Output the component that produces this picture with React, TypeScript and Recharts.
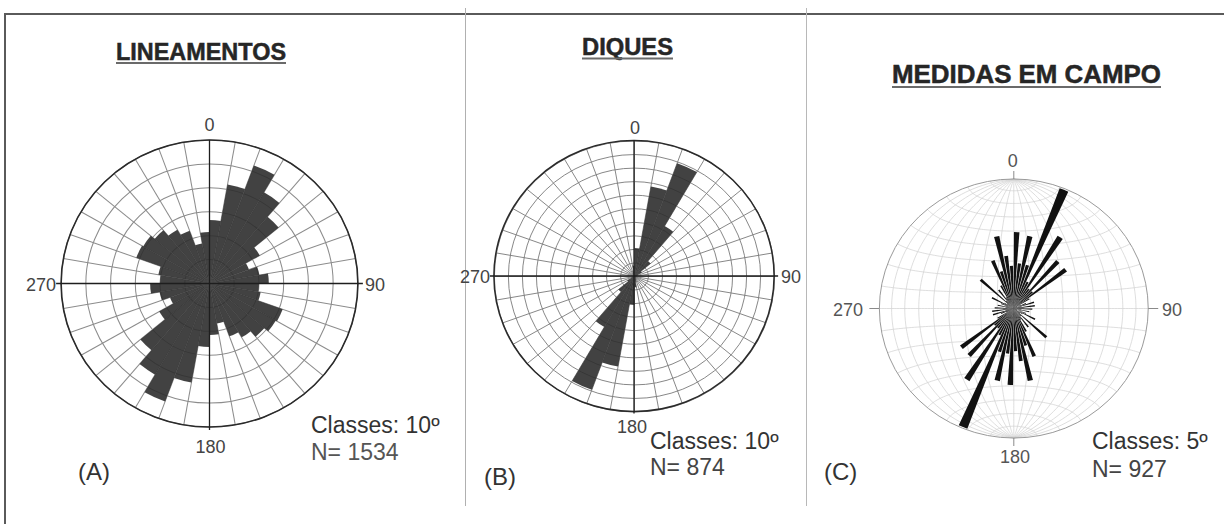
import React from 'react';
import { RadialBarChart, RadialBar, PolarAngleAxis, PolarRadiusAxis, PolarGrid } from 'recharts';

const FONT = '"Liberation Sans", Arial, Helvetica, sans-serif';

// (A) Lineamentos: frequency (%) per 10° class, 0–170°. Strikes are axial, so 180–350° repeat these.
const lineamentosPct = [2.65, 4.2, 5.25, 4.4, 3.65, 2.35, 1.7, 2.05, 2.4, 2.0, 2.1, 3.15, 3.1, 2.9, 2.6, 2.35, 1.7, 2.15];
const lineamentosRings = [1, 2, 3, 4, 5, 6];

// (B) Diques: frequency (%) per 10° class, 0–170°.
const diquesPct = [4.2, 13.5, 17.8, 8.6, 3.0, 1.2, 0.5, 0.3, 0.3, 0.2, 0.2, 0.2, 0.2, 0.3, 0.3, 0.5, 0.8, 1.6];
const diquesRings = [2, 4, 6, 8, 10, 12, 14, 16, 18, 20];

// (C) Medidas em campo: frequency (%) per 5° class, 0–175°.
const camposPct = [
  2.95, 1.75, 2.85, 1.75, 4.95, 1.15, 3.25, 0.95, 2.45, 0.95, 2.45, 0.7,
  0.3, 0.5, 0.8, 0.3, 0.8, 0.4, 0.7, 0.3, 0.6, 0.3, 0.5, 0.9,
  0.4, 0.3, 1.65, 0.4, 0.9, 0.5, 1.0, 2.0, 1.5, 2.85, 2.05, 1.65,
];
const camposMax = 5;

// Compass labels around each diagram
const compassLabels = ['0', '90', '180', '270'];

type Row = { bin: string; value: number };

// Expand the 0–180° half into a full circle (axial data)
function fullCircle(half: number[], step: number): Row[] {
  const n = 360 / step;
  const rows: Row[] = [];
  for (let i = 0; i < n; i++) rows.push({ bin: String(i * step), value: half[i % half.length] });
  return rows;
}

const spokeAngles = Array.from({ length: 36 }, (_, i) => i * 10);

type RoseProps = {
  cx: number; cy: number; r: number; sx: number; step: number; gap: number | string;
  data: Row[]; max: number; rings?: number[];
  fill: string; opacity: number; gridStroke?: string; gridWidth?: number;
};

function Rose({ cx, cy, r, sx, step, gap, data, max, rings, fill, opacity, gridStroke, gridWidth }: RoseProps) {
  const pad = 4;
  const size = 2 * (r + pad);
  // Clockwise compass layout; each class sector is laid from its band edge, so the
  // angular range begins one class width before north.
  const start = 90 - step;
  return (
    <div
      style={{
        position: 'absolute', left: cx - r - pad, top: cy - r - pad, width: size, height: size,
        transform: `scaleX(${sx})`, transformOrigin: '50% 50%',
      }}
    >
      <RadialBarChart
        width={size} height={size} data={data} layout="centric"
        cx={r + pad} cy={r + pad} innerRadius={0} outerRadius={r}
        startAngle={start} endAngle={start - 360} barCategoryGap={gap} barGap={0}
        margin={{ top: 0, right: 0, bottom: 0, left: 0 }}
      >
        {rings && (
          <PolarGrid
            gridType="circle"
            polarAngles={spokeAngles}
            polarRadius={rings.map((v) => (v / max) * r)}
            stroke={gridStroke}
            strokeWidth={gridWidth}
          />
        )}
        <PolarAngleAxis type="category" dataKey="bin" hide tick={false} axisLine={false} tickLine={false} />
        <PolarRadiusAxis type="number" domain={[0, max]} allowDataOverflow hide tick={false} axisLine={false} />
        <RadialBar dataKey="value" fill={fill} fillOpacity={opacity} stroke="none" isAnimationActive={false} />
      </RadialBarChart>
    </div>
  );
}

// Equal-area (Schmidt) net, equatorial aspect
function schmidt(lonDeg: number, latDeg: number, R: number): [number, number] {
  const lon = (lonDeg * Math.PI) / 180;
  const lat = (latDeg * Math.PI) / 180;
  const c = 1 + Math.cos(lat) * Math.cos(lon);
  const k = Math.sqrt(2 / Math.max(c, 1e-9));
  return [(R * k * Math.cos(lat) * Math.sin(lon)) / Math.SQRT2, (R * k * Math.sin(lat)) / Math.SQRT2];
}

function StereoNet({ cx, cy, rx, ry }: { cx: number; cy: number; rx: number; ry: number }) {
  const paths: string[] = [];
  const toXY = (lon: number, lat: number) => {
    const [x, y] = schmidt(lon, lat, ry);
    return `${(cx + (x * rx) / ry).toFixed(2)},${(cy - y).toFixed(2)}`;
  };
  for (let lon = -80; lon <= 80; lon += 10) {
    const pts: string[] = [];
    for (let lat = -90; lat <= 90; lat += 2) pts.push(toXY(lon, lat));
    paths.push('M' + pts.join('L'));
  }
  for (let lat = -80; lat <= 80; lat += 10) {
    const pts: string[] = [];
    for (let lon = -90; lon <= 90; lon += 2) pts.push(toXY(lon, lat));
    paths.push('M' + pts.join('L'));
  }
  return (
    <g>
      {paths.map((d, i) => (
        <path key={i} d={d} fill="none" stroke="#d0d0d0" strokeWidth={0.7} />
      ))}
      <ellipse cx={cx} cy={cy} rx={rx} ry={ry} fill="none" stroke="#9a9a9a" strokeWidth={1} />
    </g>
  );
}

const A = { cx: 209.5, cy: 283.5, r: 143.5, sx: 1.034 };
const B = { cx: 634, cy: 276, r: 135.5, sx: 1.034 };
const C = { cx: 1013.8, cy: 308.5, r: 129.5, sx: 1.038 };

function Title({ x, w, y, size, text, uy }: { x: number; w: number; y: number; size: number; text: string; uy: number }) {
  return (
    <g>
      <text x={x} y={y} fontFamily={FONT} fontWeight="bold" fontSize={size} fill="#262626" stroke="#262626" strokeWidth={0.5} textLength={w} lengthAdjust="spacingAndGlyphs">
        {text}
      </text>
      <line x1={x} x2={x + w} y1={uy} y2={uy} stroke="#6a6a6a" strokeWidth={2} />
    </g>
  );
}

function Lbl({ x, y, text, size = 18, fill = '#444', anchor = 'middle' }: { x: number; y: number; text: string; size?: number; fill?: string; anchor?: string }) {
  return (
    <text x={x} y={y} fontFamily={FONT} fontSize={size} fill={fill} textAnchor={anchor as any} dominantBaseline="central">
      {text}
    </text>
  );
}

export default function App() {
  const aData = fullCircle(lineamentosPct, 10);
  const bData = fullCircle(diquesPct, 10);
  const cData = fullCircle(camposPct, 5);
  const arx = A.r * A.sx, brx = B.r * B.sx, crx = C.r * C.sx;
  return (
    <div style={{ position: 'absolute', left: 0, top: 0, width: 1224, height: 524, background: '#fff', overflow: 'hidden' }}>
      <svg width={1224} height={524} style={{ position: 'absolute', left: 0, top: 0 }}>
        <StereoNet cx={C.cx} cy={C.cy} rx={crx} ry={C.r} />
      </svg>

      <Rose {...A} step={10} gap={0} data={aData} max={6} rings={lineamentosRings} fill="#2e2e2e" opacity={0.9} gridStroke="#8c8c8c" gridWidth={1} />
      <Rose {...B} step={10} gap={0} data={bData} max={20} rings={diquesRings} fill="#2e2e2e" opacity={0.9} gridStroke="#7c7c7c" gridWidth={0.9} />
      <Rose {...C} step={5} gap="14%" data={cData} max={camposMax} fill="#111" opacity={1} />

      <svg width={1224} height={524} style={{ position: 'absolute', left: 0, top: 0, pointerEvents: 'none' }}>
        {/* frame and panel dividers */}
        <line x1={4} x2={1224} y1={14} y2={14} stroke="#5a5a5a" strokeWidth={2} />
        <line x1={5} x2={5} y1={13} y2={524} stroke="#5a5a5a" strokeWidth={2} />
        <line x1={465.5} x2={465.5} y1={8} y2={506} stroke="#b0b0b0" strokeWidth={1} />
        <line x1={806.5} x2={806.5} y1={8} y2={506} stroke="#b8b8b8" strokeWidth={1} />

        {/* titles */}
        <Title x={116} w={170} y={60} size={23.5} text="LINEAMENTOS" uy={63} />
        <Title x={582} w={91} y={55} size={23.5} text="DIQUES" uy={58.5} />
        <Title x={892} w={269} y={83} size={26} text="MEDIDAS EM CAMPO" uy={87} />

        {/* (A) frame of the rose */}
        <ellipse cx={A.cx} cy={A.cy} rx={arx} ry={A.r} fill="none" stroke="#2a2a2a" strokeWidth={1.6} />
        <line x1={A.cx - arx - 5} x2={A.cx + arx + 5} y1={A.cy} y2={A.cy} stroke="#1e1e1e" strokeWidth={1.3} />
        <line x1={A.cx} x2={A.cx} y1={A.cy - A.r} y2={A.cy + A.r + 3} stroke="#1e1e1e" strokeWidth={1.3} />
        <Lbl x={A.cx} y={124.5} text={compassLabels[0]} />
        <Lbl x={375} y={A.cy + 1} text={compassLabels[1]} />
        <Lbl x={A.cx + 1} y={447} text={compassLabels[2]} />
        <Lbl x={41} y={A.cy + 1} text={compassLabels[3]} />
        <Lbl x={311} y={425} text="Classes: 10º" size={23} fill="#333" anchor="start" />
        <Lbl x={311} y={452} text="N= 1534" size={23} fill="#555" anchor="start" />
        <Lbl x={78} y={471} text="(A)" size={24} fill="#333" anchor="start" />

        {/* (B) frame of the rose */}
        <ellipse cx={B.cx} cy={B.cy} rx={brx} ry={B.r} fill="none" stroke="#2a2a2a" strokeWidth={1.5} />
        <line x1={B.cx - brx - 4} x2={B.cx + brx + 4} y1={B.cy} y2={B.cy} stroke="#1e1e1e" strokeWidth={1.3} />
        <line x1={B.cx} x2={B.cx} y1={B.cy - B.r} y2={B.cy + B.r + 2} stroke="#1e1e1e" strokeWidth={1.3} />
        <Lbl x={B.cx + 1} y={127.5} text={compassLabels[0]} />
        <Lbl x={791} y={B.cy + 1} text={compassLabels[1]} />
        <Lbl x={632} y={427} text={compassLabels[2]} />
        <Lbl x={475} y={B.cy + 0.5} text={compassLabels[3]} />
        <Lbl x={650} y={441} text="Classes: 10º" size={23} fill="#333" anchor="start" />
        <Lbl x={650} y={467} text="N= 874" size={23} fill="#444" anchor="start" />
        <Lbl x={484} y={476} text="(B)" size={24} fill="#333" anchor="start" />

        {/* (C) compass ticks and labels */}
        <line x1={C.cx} x2={C.cx} y1={171} y2={C.cy - C.r} stroke="#8a8a8a" strokeWidth={1} />
        <line x1={C.cx} x2={C.cx} y1={C.cy + C.r} y2={C.cy + C.r + 8} stroke="#8a8a8a" strokeWidth={1} />
        <line x1={C.cx - crx - 10} x2={C.cx - crx} y1={C.cy} y2={C.cy} stroke="#8a8a8a" strokeWidth={1} />
        <line x1={C.cx + crx} x2={C.cx + crx + 10} y1={C.cy} y2={C.cy} stroke="#8a8a8a" strokeWidth={1} />
        <Lbl x={C.cx - 1} y={161} text={compassLabels[0]} fill="#555" />
        <Lbl x={1172} y={C.cy + 1} text={compassLabels[1]} fill="#555" />
        <Lbl x={1015} y={457} text={compassLabels[2]} fill="#555" />
        <Lbl x={848} y={C.cy + 1} text={compassLabels[3]} fill="#555" />
        <Lbl x={1092} y={441} text="Classes: 5º" size={23} fill="#333" anchor="start" />
        <Lbl x={1092} y={469} text="N= 927" size={23} fill="#444" anchor="start" />
        <Lbl x={824} y={471} text="(C)" size={24} fill="#333" anchor="start" />
      </svg>
    </div>
  );
}
